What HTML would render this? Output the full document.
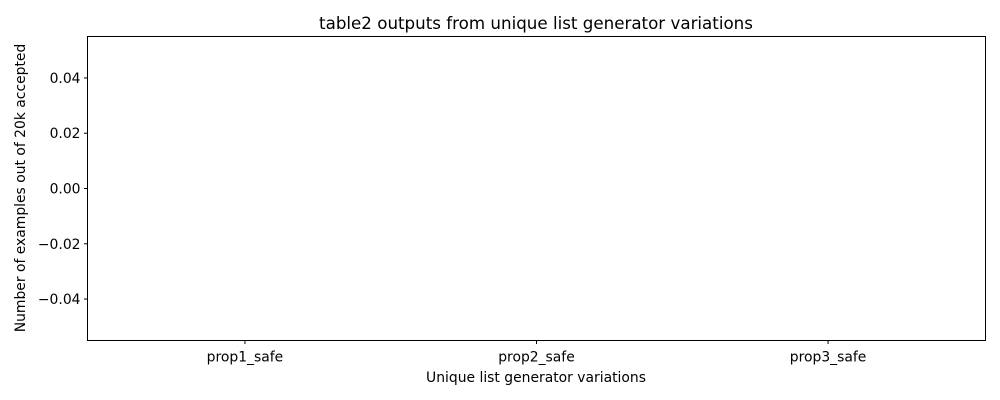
<!DOCTYPE html>
<html><head><meta charset="utf-8"><style>
body{margin:0;background:#fff;}
svg{display:block;font-family:"DejaVu Sans","Liberation Sans",sans-serif;}
</style></head><body>
<svg width="1000" height="400">
<g id="bars"></g>
<rect x="87.5" y="36.5" width="898" height="304" fill="none" stroke="#000" stroke-width="1"/>
<g id="yt" font-size="13.9" text-anchor="end"></g>
<g id="xt" font-size="13.9" text-anchor="middle"></g>
<text x="536" y="29" font-size="16.7" text-anchor="middle">table2 outputs from unique list generator variations</text>
<text x="536" y="382" font-size="13.9" text-anchor="middle">Unique list generator variations</text>
<text transform="translate(25,188) rotate(-90)" font-size="13.9" text-anchor="middle">Number of examples out of 20k accepted</text>
</svg>
<script>
const categories=["prop1_safe","prop2_safe","prop3_safe"];
const values=[0,0,0];
const yTicks=[0.04,0.02,0,-0.02,-0.04];
const yLabels=["0.04","0.02","0.00","\u22120.02","\u22120.04"];
const L=87.5,R=985.5,T=36.5,B=340.5;
const ymin=-0.055,ymax=0.055,xmin=-0.54,xmax=categories.length-1+0.54;
const ys=v=>B-(v-ymin)/(ymax-ymin)*(B-T);
const xs=i=>L+(i-xmin)/(xmax-xmin)*(R-L);
const NS="http://www.w3.org/2000/svg";
const yt=document.getElementById('yt'),xt=document.getElementById('xt'),bars=document.getElementById('bars');
yTicks.forEach((v,i)=>{
 const y=ys(v);
 const l=document.createElementNS(NS,'line');
 l.setAttribute('x1',L-3.5);l.setAttribute('x2',L);l.setAttribute('y1',y);l.setAttribute('y2',y);l.setAttribute('stroke','#000');
 
 
 yt.appendChild(l);
 const t=document.createElementNS(NS,'text');
 t.setAttribute('x',L-7);t.setAttribute('y',y+5);t.textContent=yLabels[i];
 
 
 yt.appendChild(t);
});
const bw=0.8;
categories.forEach((c,i)=>{
 const x=xs(i);
 const l=document.createElementNS(NS,'line');
 l.setAttribute('x1',x);l.setAttribute('x2',x);l.setAttribute('y1',B);l.setAttribute('y2',B+3.5);l.setAttribute('stroke','#000');
 
 
 xt.appendChild(l);
 const t=document.createElementNS(NS,'text');
 t.setAttribute('x',x);t.setAttribute('y',B+21);t.textContent=c;
 
 
 xt.appendChild(t);
 const v=values[i];
 const r=document.createElementNS(NS,'rect');
 const x0=xs(i-bw/2),x1=xs(i+bw/2);
 r.setAttribute('x',x0);r.setAttribute('width',x1-x0);
 r.setAttribute('y',Math.min(ys(v),ys(0)));r.setAttribute('height',Math.abs(ys(v)-ys(0)));
 r.setAttribute('fill','#1f77b4');
 
 
 bars.appendChild(r);
});
</script>
</body></html>
